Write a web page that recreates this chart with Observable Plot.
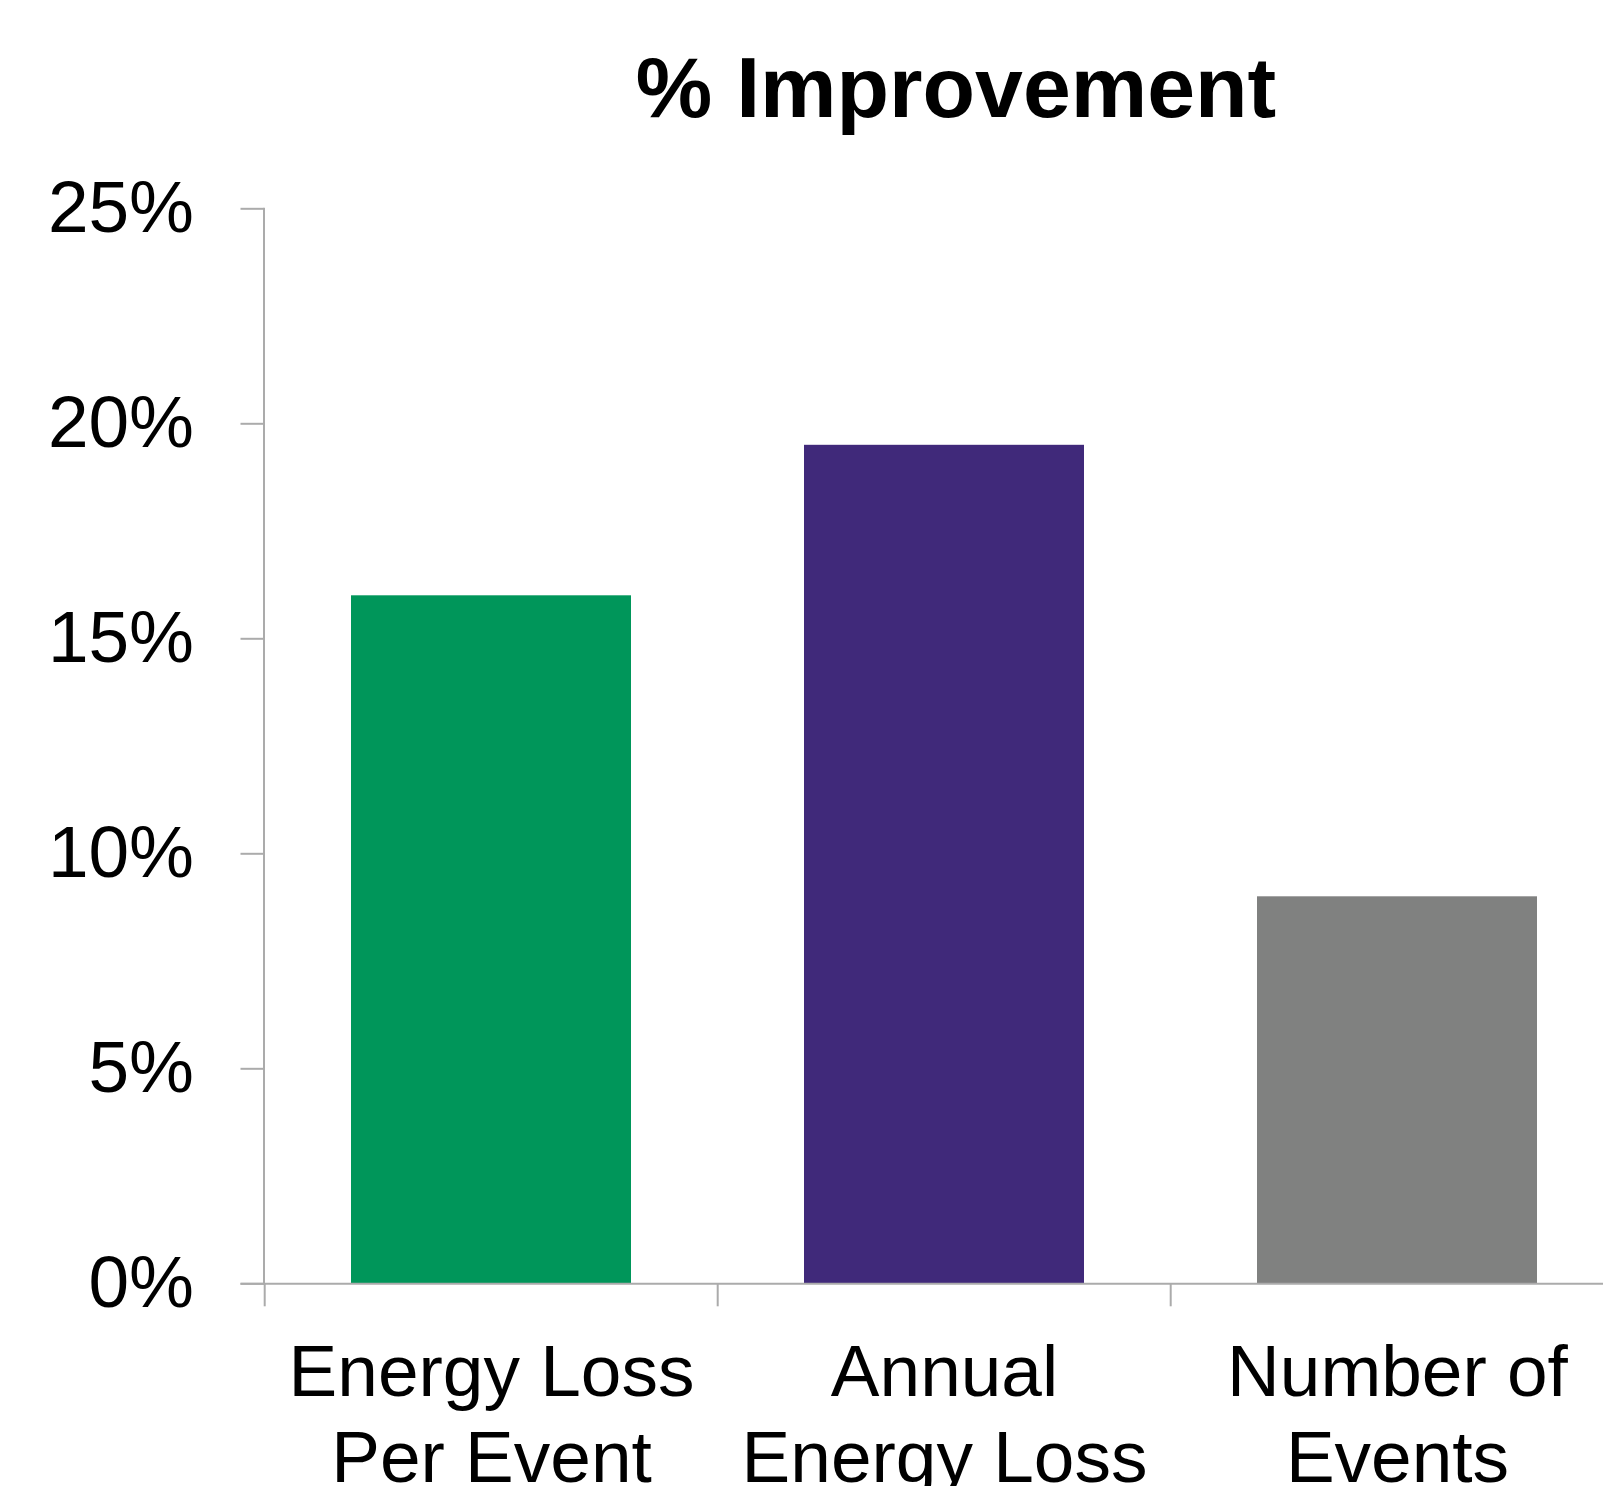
<!DOCTYPE html>
<html>
<head>
<meta charset="utf-8">
<script src="https://cdn.jsdelivr.net/npm/d3@7"></script>
<script src="https://cdn.jsdelivr.net/npm/@observablehq/plot@0.6"></script>
<style>
  html, body { margin: 0; padding: 0; background: #fff; }
  #wrap { position: relative; width: 1603px; height: 1486px; overflow: hidden; font-family: "Liberation Sans", Arial, sans-serif; }
  #title { position: absolute; z-index: 2; top: 44px; left: 956px; transform: translateX(-50%); font-size: 86px; line-height: 86px; font-weight: bold; white-space: nowrap; color: #000; }
  #chart { position: absolute; z-index: 1; top: 0; left: 0; }
</style>
</head>
<body>
<div id="wrap">
  <div id="title">% Improvement</div>
  <div id="chart"></div>
</div>
<script>
const categories = ["Energy Loss\nPer Event", "Annual\nEnergy Loss", "Number of\nEvents"];
const values = [16, 19.5, 9];
const colors = ["#00965a", "#40297a", "#808180"];
const yTicks = [0, 5, 10, 15, 20, 25];

const data = categories.map((c, i) => ({category: c, value: values[i], color: colors[i]}));

const axisColor = "#ababab";
const step = (1624.3 - 263.5) / categories.length;

const chart = Plot.plot({
  width: 1603,
  height: 1486,
  marginLeft: 263.5,
  marginRight: 0,
  marginTop: 208.3,
  marginBottom: 202.7,
  style: {fontFamily: "'Liberation Sans', Arial, sans-serif", background: "white", overflow: "visible"},
  x: {domain: categories, range: [263.5, 1624.3], paddingInner: 0.383, paddingOuter: 0.1915, label: null},
  y: {domain: [0, 25], label: null},
  marks: [
    Plot.barY(data, {x: "category", y: "value", fill: "color"}),
    Plot.frame({anchor: "left", stroke: axisColor, strokeWidth: 2}),
    Plot.ruleY([0], {stroke: axisColor, strokeWidth: 2, insetLeft: -23}),
    Plot.axisY({ticks: yTicks, tickFormat: d => d + "%", tickSize: 23, tickPadding: 47, fontSize: 73, stroke: axisColor, strokeWidth: 2, fill: "black", label: null}),
    Plot.axisX({tickSize: 23, tickFormat: () => "", dx: -step / 2, stroke: axisColor, strokeWidth: 2, label: null}),
    Plot.axisX({tickSize: 0, tickPadding: 51, fontSize: 73, lineHeight: 1.18, fill: "black", label: null})
  ]
});
document.getElementById("chart").appendChild(chart);
</script>
</body>
</html>
